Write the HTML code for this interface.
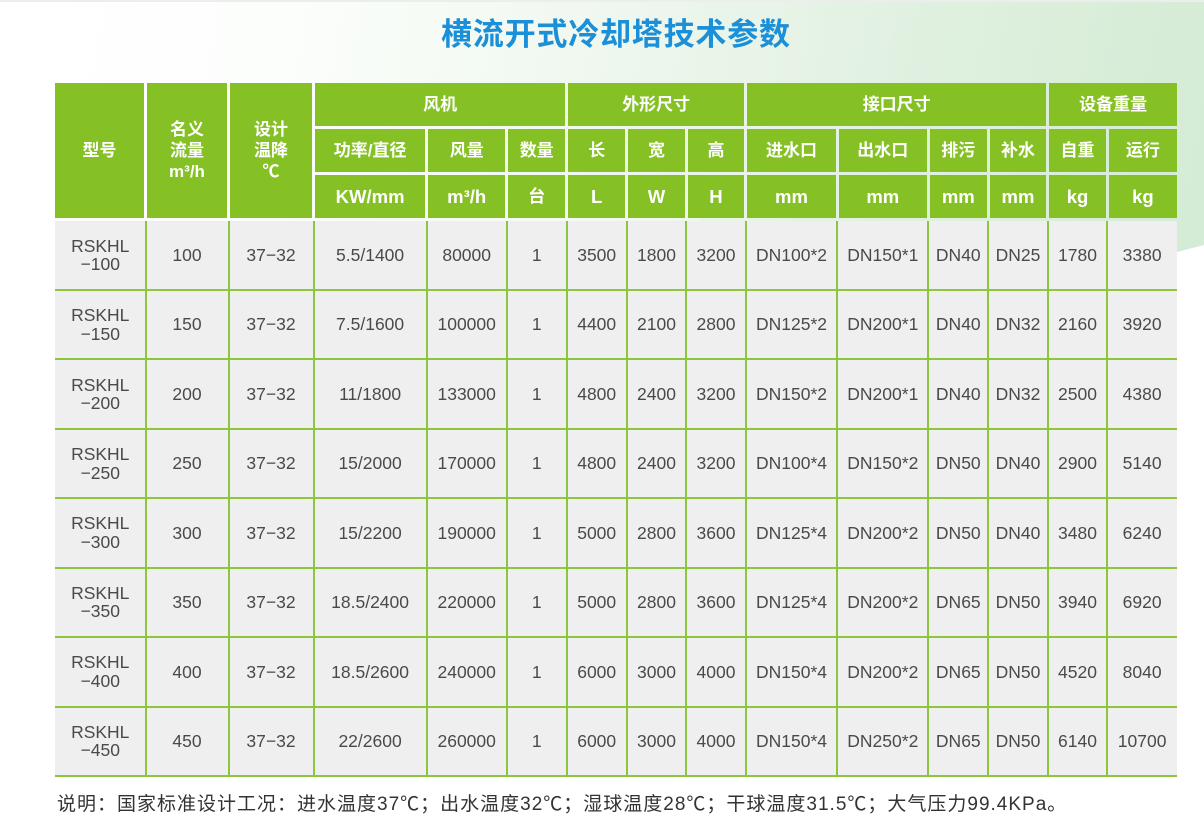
<!DOCTYPE html>
<html><head><meta charset="utf-8">
<style>
html,body{margin:0;padding:0;}
body{width:1204px;height:836px;position:relative;overflow:hidden;background:#fff;font-family:"Liberation Sans","Noto Sans CJK SC",sans-serif;}
.bg{position:absolute;left:0;top:0;width:1204px;height:340px;
background:linear-gradient(100deg,#ffffff 0%,#fcfefc 22%,#eef7ee 50%,#dff0df 75%,#d3ebd4 100%);
clip-path:polygon(0 0,1204px 0,1204px 245px,1177px 252px,700px 330px,0 330px);}
.bgfade{position:absolute;left:0;top:180px;width:700px;height:160px;background:linear-gradient(180deg,rgba(255,255,255,0),#fff);}
.topline{position:absolute;left:0;top:0;width:1204px;height:2px;background:#eceeec;}
.title{position:absolute;left:441px;top:16px;width:360px;height:32px;line-height:32px;font-family:"Noto Sans CJK SC",sans-serif;font-weight:bold;font-size:31px;letter-spacing:0.8px;color:#1b8fd8;white-space:nowrap;}
.h{position:absolute;background:#85c125;color:#fff;display:flex;align-items:center;justify-content:center;text-align:center;font-family:"Liberation Sans","Noto Sans CJK SC",sans-serif;font-weight:bold;font-size:17px;line-height:21px;}
.h .l{font-size:18.5px;}
.body{position:absolute;left:55px;top:221px;width:1122px;height:556px;background:#efefef;}
.hl{position:absolute;left:55px;width:1122px;height:2px;background:#8cc63e;}
.vl{position:absolute;top:221px;width:2px;height:556px;background:#8cc63e;}
.r{position:absolute;left:0;width:1204px;}
.r div{position:absolute;top:0;height:100%;display:flex;align-items:center;justify-content:center;text-align:center;font-size:17.5px;line-height:18.5px;color:#4a4a4a;white-space:nowrap;}
.k0{left:55px;width:90.5px}
.k1{left:145.5px;width:83px}
.k2{left:228.5px;width:85px}
.k3{left:313.5px;width:113.2px}
.k4{left:426.7px;width:80px}
.k5{left:506.7px;width:60px}
.k6{left:566.7px;width:60px}
.k7{left:626.7px;width:59.6px}
.k8{left:686.3px;width:59.4px}
.k9{left:745.7px;width:91.6px}
.k10{left:837.3px;width:91px}
.k11{left:928.3px;width:60px}
.k12{left:988.3px;width:59.4px}
.k13{left:1047.7px;width:59.6px}
.k14{left:1107.3px;width:69.7px}
.foot{position:absolute;left:57px;top:795px;height:20px;line-height:20px;font-family:"Liberation Sans","Noto Sans CJK SC",sans-serif;font-size:19px;letter-spacing:1px;color:#333;white-space:nowrap;}
</style></head><body>
<div class="bg"></div>
<div class="bgfade"></div>
<div class="topline"></div>
<div class="title">横流开式冷却塔技术参数</div>

<!-- header -->
<div class="h" style="left:55px;top:83px;width:89px;height:135px;">型号</div>
<div class="h" style="left:147px;top:83px;width:80px;height:135px;">名义<br>流量<br>m³/h</div>
<div class="h" style="left:230px;top:83px;width:82px;height:135px;">设计<br>温降<br>℃</div>

<div class="h" style="left:315px;top:83px;width:250.2px;height:42.7px;">风机</div>
<div class="h" style="left:568.2px;top:83px;width:176px;height:42.7px;">外形尺寸</div>
<div class="h" style="left:747.2px;top:83px;width:299px;height:42.7px;">接口尺寸</div>
<div class="h" style="left:1049.2px;top:83px;width:127.8px;height:42.7px;">设备重量</div>

<div class="h" style="left:315px;top:128.7px;width:110.2px;height:43.6px;">功率/直径</div>
<div class="h" style="left:428.2px;top:128.7px;width:77px;height:43.6px;">风量</div>
<div class="h" style="left:508.2px;top:128.7px;width:57px;height:43.6px;">数量</div>
<div class="h" style="left:568.2px;top:128.7px;width:57px;height:43.6px;">长</div>
<div class="h" style="left:628.2px;top:128.7px;width:56.6px;height:43.6px;">宽</div>
<div class="h" style="left:687.8px;top:128.7px;width:56.4px;height:43.6px;">高</div>
<div class="h" style="left:747.2px;top:128.7px;width:88.6px;height:43.6px;">进水口</div>
<div class="h" style="left:838.8px;top:128.7px;width:88px;height:43.6px;">出水口</div>
<div class="h" style="left:929.8px;top:128.7px;width:57px;height:43.6px;">排污</div>
<div class="h" style="left:989.8px;top:128.7px;width:56.4px;height:43.6px;">补水</div>
<div class="h" style="left:1049.2px;top:128.7px;width:56.6px;height:43.6px;">自重</div>
<div class="h" style="left:1108.8px;top:128.7px;width:68.2px;height:43.6px;">运行</div>

<div class="h" style="left:315px;top:175.3px;width:110.2px;height:42.7px;"><span class="l">KW/mm</span></div>
<div class="h" style="left:428.2px;top:175.3px;width:77px;height:42.7px;"><span class="l">m³/h</span></div>
<div class="h" style="left:508.2px;top:175.3px;width:57px;height:42.7px;">台</div>
<div class="h" style="left:568.2px;top:175.3px;width:57px;height:42.7px;"><span class="l">L</span></div>
<div class="h" style="left:628.2px;top:175.3px;width:56.6px;height:42.7px;"><span class="l">W</span></div>
<div class="h" style="left:687.8px;top:175.3px;width:56.4px;height:42.7px;"><span class="l">H</span></div>
<div class="h" style="left:747.2px;top:175.3px;width:88.6px;height:42.7px;"><span class="l">mm</span></div>
<div class="h" style="left:838.8px;top:175.3px;width:88px;height:42.7px;"><span class="l">mm</span></div>
<div class="h" style="left:929.8px;top:175.3px;width:57px;height:42.7px;"><span class="l">mm</span></div>
<div class="h" style="left:989.8px;top:175.3px;width:56.4px;height:42.7px;"><span class="l">mm</span></div>
<div class="h" style="left:1049.2px;top:175.3px;width:56.6px;height:42.7px;"><span class="l">kg</span></div>
<div class="h" style="left:1108.8px;top:175.3px;width:68.2px;height:42.7px;"><span class="l">kg</span></div>

<!-- body -->
<div class="body"></div>
<div class="hl" style="top:289px"></div>
<div class="hl" style="top:358.4px"></div>
<div class="hl" style="top:427.9px"></div>
<div class="hl" style="top:497.3px"></div>
<div class="hl" style="top:566.7px"></div>
<div class="hl" style="top:636.1px"></div>
<div class="hl" style="top:705.6px"></div>
<div class="hl" style="top:775px"></div>

<div class="vl" style="left:144.5px"></div>
<div class="vl" style="left:227.5px"></div>
<div class="vl" style="left:312.5px"></div>
<div class="vl" style="left:425.7px"></div>
<div class="vl" style="left:505.7px"></div>
<div class="vl" style="left:565.7px"></div>
<div class="vl" style="left:625.7px"></div>
<div class="vl" style="left:685.3px"></div>
<div class="vl" style="left:744.7px"></div>
<div class="vl" style="left:836.3px"></div>
<div class="vl" style="left:927.3px"></div>
<div class="vl" style="left:987.3px"></div>
<div class="vl" style="left:1046.7px"></div>
<div class="vl" style="left:1106.3px"></div>

<div class="r" style="top:221px;height:68px">
<div class="k0">RSKHL<br>−100</div><div class="k1">100</div><div class="k2">37−32</div><div class="k3">5.5/1400</div><div class="k4">80000</div><div class="k5">1</div><div class="k6">3500</div><div class="k7">1800</div><div class="k8">3200</div><div class="k9">DN100*2</div><div class="k10">DN150*1</div><div class="k11">DN40</div><div class="k12">DN25</div><div class="k13">1780</div><div class="k14">3380</div>
</div>
<div class="r" style="top:291px;height:67.4px">
<div class="k0">RSKHL<br>−150</div><div class="k1">150</div><div class="k2">37−32</div><div class="k3">7.5/1600</div><div class="k4">100000</div><div class="k5">1</div><div class="k6">4400</div><div class="k7">2100</div><div class="k8">2800</div><div class="k9">DN125*2</div><div class="k10">DN200*1</div><div class="k11">DN40</div><div class="k12">DN32</div><div class="k13">2160</div><div class="k14">3920</div>
</div>
<div class="r" style="top:360.4px;height:67.5px">
<div class="k0">RSKHL<br>−200</div><div class="k1">200</div><div class="k2">37−32</div><div class="k3">11/1800</div><div class="k4">133000</div><div class="k5">1</div><div class="k6">4800</div><div class="k7">2400</div><div class="k8">3200</div><div class="k9">DN150*2</div><div class="k10">DN200*1</div><div class="k11">DN40</div><div class="k12">DN32</div><div class="k13">2500</div><div class="k14">4380</div>
</div>
<div class="r" style="top:429.9px;height:67.4px">
<div class="k0">RSKHL<br>−250</div><div class="k1">250</div><div class="k2">37−32</div><div class="k3">15/2000</div><div class="k4">170000</div><div class="k5">1</div><div class="k6">4800</div><div class="k7">2400</div><div class="k8">3200</div><div class="k9">DN100*4</div><div class="k10">DN150*2</div><div class="k11">DN50</div><div class="k12">DN40</div><div class="k13">2900</div><div class="k14">5140</div>
</div>
<div class="r" style="top:499.3px;height:67.4px">
<div class="k0">RSKHL<br>−300</div><div class="k1">300</div><div class="k2">37−32</div><div class="k3">15/2200</div><div class="k4">190000</div><div class="k5">1</div><div class="k6">5000</div><div class="k7">2800</div><div class="k8">3600</div><div class="k9">DN125*4</div><div class="k10">DN200*2</div><div class="k11">DN50</div><div class="k12">DN40</div><div class="k13">3480</div><div class="k14">6240</div>
</div>
<div class="r" style="top:568.7px;height:67.4px">
<div class="k0">RSKHL<br>−350</div><div class="k1">350</div><div class="k2">37−32</div><div class="k3">18.5/2400</div><div class="k4">220000</div><div class="k5">1</div><div class="k6">5000</div><div class="k7">2800</div><div class="k8">3600</div><div class="k9">DN125*4</div><div class="k10">DN200*2</div><div class="k11">DN65</div><div class="k12">DN50</div><div class="k13">3940</div><div class="k14">6920</div>
</div>
<div class="r" style="top:638.1px;height:67.5px">
<div class="k0">RSKHL<br>−400</div><div class="k1">400</div><div class="k2">37−32</div><div class="k3">18.5/2600</div><div class="k4">240000</div><div class="k5">1</div><div class="k6">6000</div><div class="k7">3000</div><div class="k8">4000</div><div class="k9">DN150*4</div><div class="k10">DN200*2</div><div class="k11">DN65</div><div class="k12">DN50</div><div class="k13">4520</div><div class="k14">8040</div>
</div>
<div class="r" style="top:707.6px;height:67.4px">
<div class="k0">RSKHL<br>−450</div><div class="k1">450</div><div class="k2">37−32</div><div class="k3">22/2600</div><div class="k4">260000</div><div class="k5">1</div><div class="k6">6000</div><div class="k7">3000</div><div class="k8">4000</div><div class="k9">DN150*4</div><div class="k10">DN250*2</div><div class="k11">DN65</div><div class="k12">DN50</div><div class="k13">6140</div><div class="k14">10700</div>
</div>

<div class="foot">说明：国家标准设计工况：进水温度37℃；出水温度32℃；湿球温度28℃；干球温度31.5℃；大气压力99.4KPa。</div>
</body></html>
